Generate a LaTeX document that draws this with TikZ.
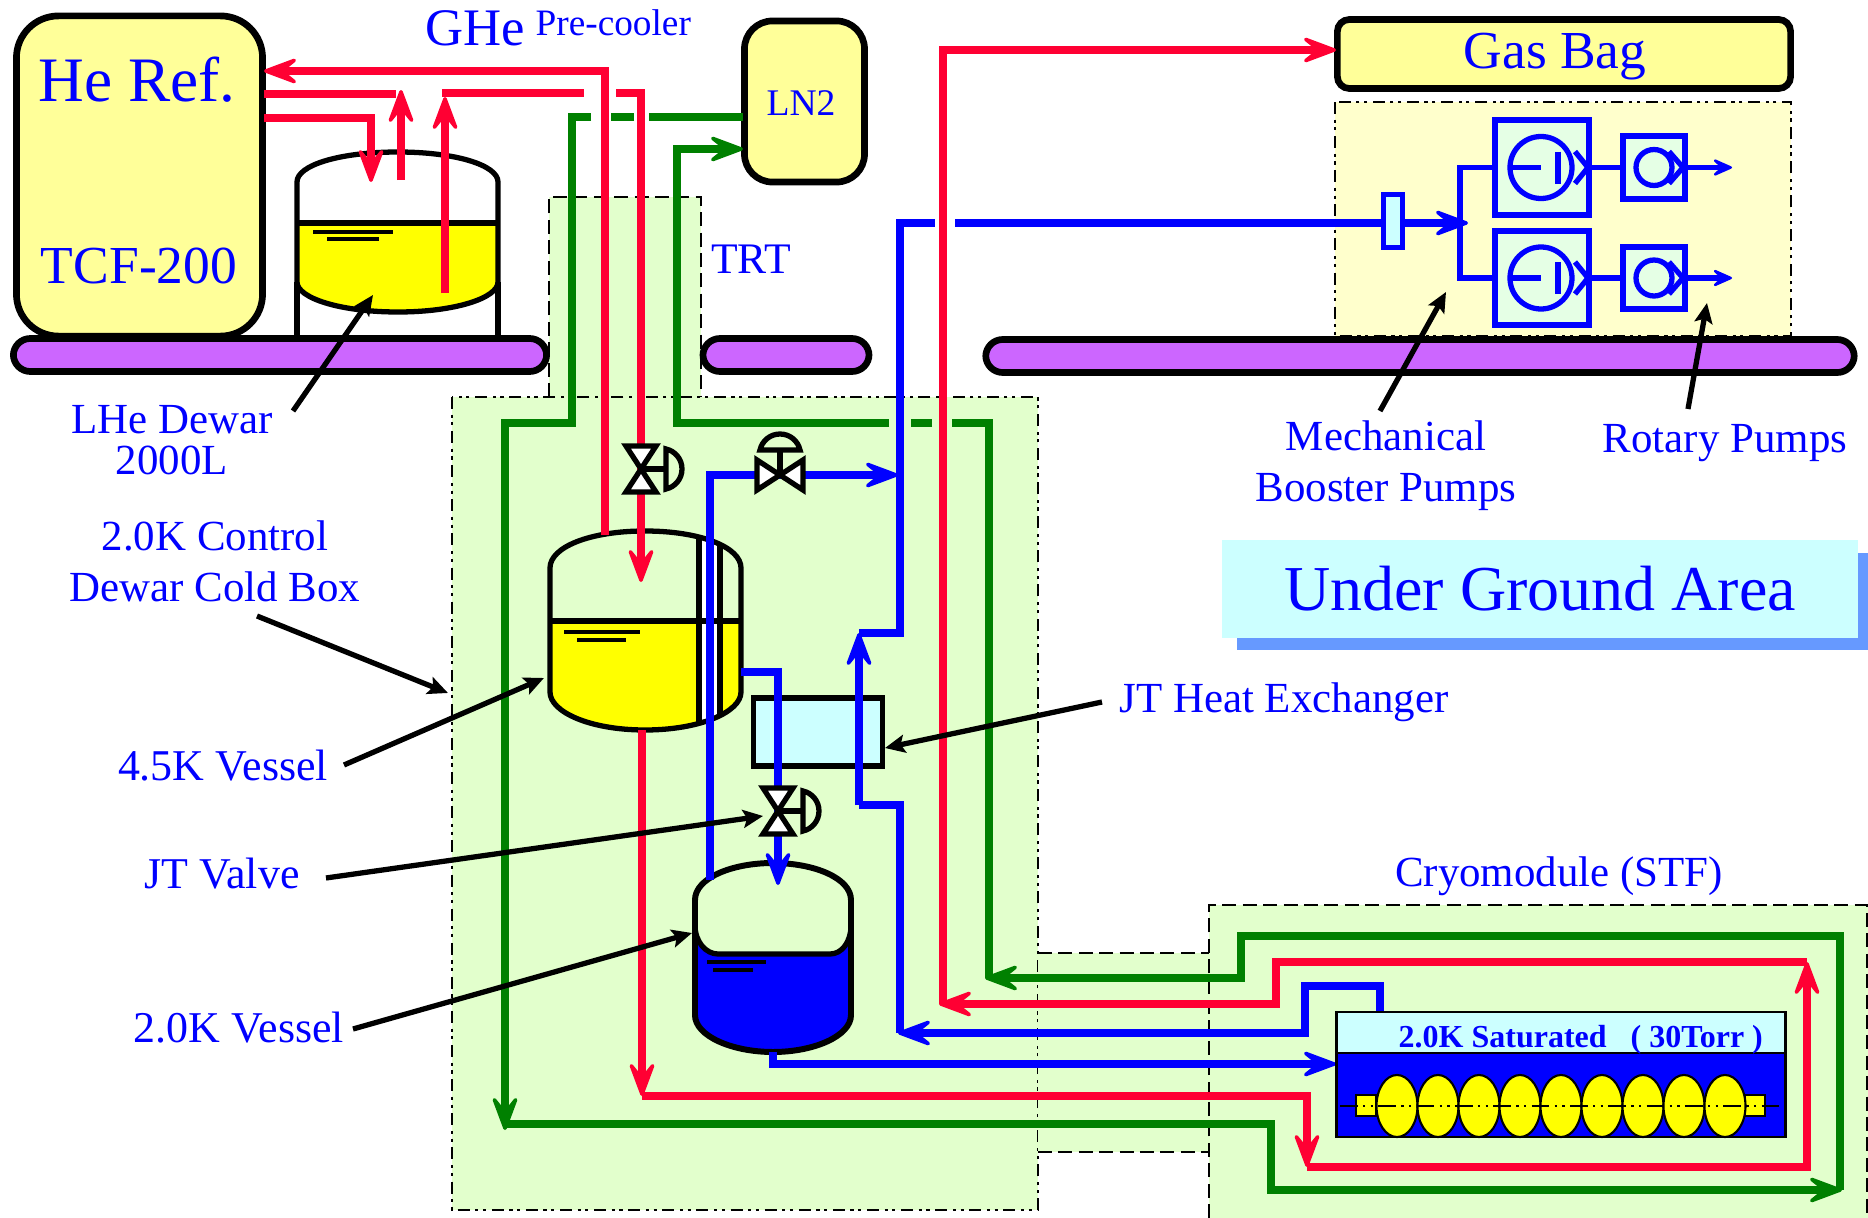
\documentclass[tikz,border=0pt]{standalone}
\usepackage{xcolor}
\usepackage{fontspec}
\setmainfont{Liberation Serif}
\usetikzlibrary{arrows.meta,shapes.geometric}
\definecolor{pipered}{HTML}{FF0033}
\definecolor{pipegreen}{HTML}{008000}
\definecolor{liquidyellow}{HTML}{FFFF00}
\definecolor{paleyellow}{HTML}{FFFF99}
\definecolor{creamyellow}{HTML}{FFFFCC}
\definecolor{palegreen}{HTML}{E2FFCC}
\definecolor{mintgreen}{HTML}{E5FFE5}
\definecolor{palecyan}{HTML}{CCFFFF}
\definecolor{floorpurple}{HTML}{CC66FF}
\definecolor{shadowblue}{HTML}{6699FF}
\tikzset{
	redline/.style={draw=pipered,line width=2.3pt},
	greenline/.style={draw=pipegreen,line width=2.4pt},
	blueline/.style={draw=blue,line width=2.3pt},
	thinblue/.style={draw=blue,line width=1.5pt},
	headed/.style={-{Stealth[length=0.43cm,width=0.32cm,inset=0.2cm,round,line width=1pt]}},
	smallhead/.style={-{Stealth[length=0.25cm,width=0.22cm,inset=0.12cm,round,line width=0.7pt]}},
	pointer/.style={draw=black,line width=1.5pt,-{Stealth[length=0.2cm,width=0.18cm,inset=0.04cm]}},
	shell/.style={draw=black,line width=1.5pt},
	level/.style={draw=black,line width=1.4pt},
	tank/.style={draw=black,line width=1.9pt,fill=paleyellow,rectangle,inner sep=0pt,outer sep=0pt},
	floorbar/.style={draw=black,line width=1.9pt,fill=floorpurple,rectangle,rounded corners=0.17cm,inner sep=0pt,outer sep=0pt},
	hxbox/.style={draw=black,line width=1.5pt,fill=palecyan,rectangle,inner sep=0pt,outer sep=0pt},
	pumpbox/.style={draw=blue,line width=1.7pt,fill=mintgreen,rectangle,inner sep=0pt,outer sep=0pt},
	cell/.style={draw=black,line width=0.6pt,fill=liquidyellow,ellipse,inner sep=0pt,outer sep=0pt,minimum width=0.41cm,minimum height=0.62cm},
	flange/.style={draw=black,line width=0.6pt,fill=liquidyellow,rectangle,inner sep=0pt,outer sep=0pt,minimum width=0.2cm,minimum height=0.21cm},
	dashdotbox/.style={draw=black,line width=0.8pt,dash pattern=on 3.4pt off 1.6pt on 0.9pt off 1.3pt on 0.9pt off 1.6pt},
	dashbox/.style={draw=black,line width=0.8pt,dash pattern=on 4pt off 1.8pt},
	tag/.style={text=blue,anchor=base,inner sep=0pt,font=\fontsize{12.2}{14.5}\selectfont},
	bigtag/.style={tag,font=\fontsize{12.5}{14.5}\selectfont},
	pics/sidevalve/.style={code={
		\draw [shell,fill=white] (-15,-23) -- (15,-23) -- (0,0) -- cycle;
		\draw [shell,fill=white] (-15,23) -- (15,23) -- (0,0) -- cycle;
		\draw [shell] (0,0) -- (25,0);
		\draw [shell] (25,-20) .. controls (34,-18) and (41,-10) .. (41,0) .. controls (41,10) and (34,18) .. (25,20) -- cycle;
	}},
	pics/boosterpump/.style={code={
		\node [pumpbox,minimum width=0.93cm,minimum height=0.94cm] (-box) at (0,0) {};
		\draw [thinblue] (-1,0) circle (31);
		\draw [thinblue] (-32,0) -- (-1,0);
		\draw [thinblue] (16,-16) -- (16,16);
		\draw [thinblue] (33,-16) -- (46,0) -- (33,16);
	}},
	pics/rotarypump/.style={code={
		\node [pumpbox,minimum width=0.62cm,minimum height=0.62cm] (-box) at (0,0) {};
		\draw [thinblue] (0,0) circle (18);
		\draw [thinblue] (15,-16) -- (29,0) -- (15,16);
	}},
}
\begin{document}
\begin{tikzpicture}[x=0.01cm,y=-0.01cm]
				\useasboundingbox (0,0) rectangle (1868,1218);
				\fill [palegreen] (549,197) rectangle (701,397);
				\draw [dashbox] (549,397) -- (549,197) -- (701,197) -- (701,397);
				\fill [palegreen] (452,397) rectangle (1038,1210);
				\draw [dashdotbox] (452,397) rectangle (1038,1210);
				\fill [palegreen] (1038,953) rectangle (1209,1152);
				\draw [dashbox] (1038,953) -- (1209,953);
				\draw [dashbox] (1038,1152) -- (1209,1152);
				\fill [palegreen] (1209,905) rectangle (1868,1218);
				\draw [dashbox] (1209,1218) -- (1209,905) -- (1867,905) -- (1867,1218);
				\fill [creamyellow] (1335,102) rectangle (1791,336);
				\draw [dashdotbox] (1335,102) rectangle (1791,336);
				\fill [shadowblue] (1237,553) rectangle (1868,650);
				\node [fill=palecyan,text=blue,inner sep=0pt,outer sep=0pt,minimum width=6.36cm,minimum height=0.97cm,text depth=0.6pt,font=\fontsize{18.2}{18}\selectfont] (undergnd) at (1540,589) {Under Ground Area};
				\node [tank,rounded corners=0.42cm,minimum width=2.46cm,minimum height=3.2cm] (heref) at (139.5,176) {};
				\node [tank,rounded corners=0.28cm,minimum width=1.2cm,minimum height=1.61cm] (lntwo) at (804.5,101.5) {};
				\node [tank,rounded corners=0.12cm,minimum width=4.53cm,minimum height=0.69cm] (gasbag) at (1564,54) {};
				\draw [shell] (297,282) -- (297,340);
				\draw [shell] (498,282) -- (498,340);
				\fill [white] (297,182) .. controls (297,165) and (340,152) .. (398,152) .. controls (455,152) and (498,165) .. (498,182) -- (498,223) -- (297,223) -- cycle;
				\fill [liquidyellow] (297,223) -- (498,223) -- (498,282) .. controls (498,298) and (455,312) .. (398,312) .. controls (340,312) and (297,298) .. (297,282) -- cycle;
				\draw [shell] (297,182) .. controls (297,165) and (340,152) .. (398,152) .. controls (455,152) and (498,165) .. (498,182) -- (498,282) .. controls (498,298) and (455,312) .. (398,312) .. controls (340,312) and (297,298) .. (297,282) -- cycle;
				\draw [shell] (297,223) -- (498,223);
				\draw [level] (313,232) -- (393,232);
				\draw [level] (327,239) -- (379,239);
				\fill [liquidyellow] (550,621) -- (741,621) -- (741,692) .. controls (741,712) and (700,730) .. (645,730) .. controls (590,730) and (550,712) .. (550,692) -- cycle;
				\fill [white] (699,537) -- (720,546) -- (720,714) -- (699,722) -- cycle;
				\draw [shell] (550,568) .. controls (550,547) and (590,531) .. (645,531) .. controls (700,531) and (741,547) .. (741,568) -- (741,692) .. controls (741,712) and (700,730) .. (645,730) .. controls (590,730) and (550,712) .. (550,692) -- cycle;
				\draw [shell] (550,621) -- (741,621);
				\draw [shell] (699,537) -- (699,722);
				\draw [shell] (720,546) -- (720,714);
				\draw [level] (564,632) -- (640,632);
				\draw [level] (577,640) -- (626,640);
				\fill [blue] (695,900) .. controls (695,878) and (732,863) .. (773,863) .. controls (814,863) and (851,878) .. (851,900) -- (851,1015) .. controls (851,1036) and (814,1052) .. (773,1052) .. controls (732,1052) and (695,1036) .. (695,1015) -- cycle;
				\fill [palegreen] (695,900) .. controls (695,878) and (732,863) .. (773,863) .. controls (814,863) and (851,878) .. (851,900) -- (851,925) .. controls (851,942) and (842,954) .. (830,954) -- (718,954) .. controls (706,954) and (695,942) .. (695,925) -- cycle;
				\draw [shell,line width=1.7pt] (695,900) .. controls (695,878) and (732,863) .. (773,863) .. controls (814,863) and (851,878) .. (851,900) -- (851,1015) .. controls (851,1036) and (814,1052) .. (773,1052) .. controls (732,1052) and (695,1036) .. (695,1015) -- cycle;
				\draw [shell] (695,925) .. controls (695,942) and (706,954) .. (718,954) -- (830,954) .. controls (842,954) and (851,942) .. (851,925);
				\draw [level] (707,962) -- (766,962);
				\draw [level] (713,970) -- (753,970);
				\node [hxbox,minimum width=1.29cm,minimum height=0.68cm] (jthx) at (818,732) {};
				\coordinate (returnstart) at (605,535);
				\coordinate (hereftop) at (264,71);
				\coordinate (herefmid) at (264,94);
				\coordinate (herefout) at (264,118);
				\coordinate (coolerout) at (396,94);
				\coordinate (coolertop) at (401,90);
				\coordinate (coolerfoot) at (401,180);
				\coordinate (dewardrop) at (371,182);
				\coordinate (dewarriser) at (445,293);
				\coordinate (dewartop) at (445,97);
				\coordinate (feedleft) at (442,93);
				\coordinate (feedmid) at (584,93);
				\coordinate (feedright) at (616,93);
				\coordinate (vesselfill) at (641,582);
				\coordinate (vesseldrain) at (642,730);
				\coordinate (drainend) at (642,1096);
				\coordinate (cryoin) at (1307,1167);
				\coordinate (cryoturn) at (1807,1167);
				\coordinate (cryoup) at (1807,962);
				\coordinate (cryoback) at (939,1004);
				\coordinate (bagriser) at (943,1004);
				\coordinate (bagin) at (1336,50);
				\draw [redline,headed] (returnstart) -- (605,71) -- (hereftop);
				\draw [redline] (herefmid) -- (coolerout);
				\draw [redline,headed] (coolerfoot) -- (coolertop);
				\draw [redline,headed] (herefout) -- (371,118) -- (dewardrop);
				\draw [redline] (feedleft) -- (feedmid);
				\draw [redline,headed] (dewarriser) -- (dewartop);
				\draw [redline,headed] (feedright) -- (641,93) -- (vesselfill);
				\draw [redline,headed] (vesseldrain) -- (drainend);
				\draw [redline,headed] (drainend) -- (1307,1096) -- (cryoin);
				\draw [redline,headed] (cryoin) -- (cryoturn) -- (cryoup);
				\draw [redline,headed] (cryoup) -- (1276,962) -- (1276,1004) -- (cryoback);
				\draw [redline,headed] (bagriser) -- (943,50) -- (bagin);
				\coordinate (lnout) at (743,117);
				\coordinate (lnin) at (743,149);
				\coordinate (shieldin) at (505,1130);
				\coordinate (shieldrun) at (505,1124);
				\coordinate (shieldend) at (1842,1190);
				\coordinate (shieldback) at (1840,1190);
				\coordinate (shieldret) at (985,978);
				\coordinate (shieldup) at (989,978);
				\draw [greenline] (lnout) -- (649,117);
				\draw [greenline] (634,117) -- (611,117);
				\draw [greenline,headed] (591,117) -- (572,117) -- (572,423) -- (505,423) -- (shieldin);
				\draw [greenline,headed] (shieldrun) -- (1271,1124) -- (1271,1190) -- (shieldend);
				\draw [greenline,headed] (shieldback) -- (1840,936) -- (1241,936) -- (1241,978) -- (shieldret);
				\draw [greenline] (shieldup) -- (989,423) -- (952,423);
				\draw [greenline] (932,423) -- (911,423);
				\draw [greenline,headed] (889,423) -- (677,423) -- (677,149) -- (lnin);
				\coordinate (cavitytop) at (1380,1012);
				\coordinate (returnarrow) at (898,1033);
				\coordinate (hxout) at (859,633);
				\coordinate (hxin) at (859,805);
				\coordinate (mainleft) at (935,223);
				\coordinate (mainright) at (955,223);
				\coordinate (pumpjoin) at (1468,223);
				\coordinate (drumout) at (741,672);
				\coordinate (drumin) at (778,885);
				\coordinate (bypassfoot) at (710,880);
				\coordinate (bypassend) at (898,475);
				\coordinate (fillstart) at (773,1052);
				\coordinate (fillend) at (1336,1064);
				\draw [blueline,headed] (cavitytop) -- (1380,986) -- (1305,986) -- (1305,1033) -- (returnarrow);
				\draw [blueline] (900,1033) -- (900,805) -- (hxin);
				\draw [blueline,headed] (hxin) -- (hxout);
				\draw [blueline] (hxout) -- (900,633) -- (900,223) -- (mainleft);
				\draw [blueline,headed] (mainright) -- (pumpjoin);
				\draw [blueline,headed] (drumout) -- (778,672) -- (drumin);
				\draw [blueline,headed] (bypassfoot) -- (710,475) -- (bypassend);
				\draw [blueline,headed] (fillstart) -- (773,1064) -- (fillend);
				\pic at (641,469) {sidevalve};
				\pic at (778,811) {sidevalve};
				\pic [rotate=90] at (780,475) {sidevalve};
				\node [floorbar,minimum width=5.33cm,minimum height=0.33cm] (floorleft) at (280,355) {};
				\node [floorbar,minimum width=1.66cm,minimum height=0.33cm] (floormid) at (786,355) {};
				\node [floorbar,minimum width=8.68cm,minimum height=0.33cm] (floorright) at (1420,356) {};
				\node [draw=blue,line width=1.3pt,fill=palecyan,inner sep=0pt,outer sep=0pt,minimum width=0.19cm,minimum height=0.53cm] (trap) at (1393,221) {};
				\pic (mbpa) at (1542,167.5) {boosterpump};
				\pic (mbpb) at (1542,278) {boosterpump};
				\pic (rpa) at (1654,167.5) {rotarypump};
				\pic (rpb) at (1654,278) {rotarypump};
				\coordinate (branch) at (1460,223);
				\coordinate (rpaout) at (1732,167.5);
				\coordinate (rpbout) at (1732,278);
				\draw [thinblue] (branch) -- (1460,167.5) -- (mbpa-box.west);
				\draw [thinblue] (branch) -- (1460,278) -- (mbpb-box.west);
				\draw [thinblue] (mbpa-box.east) -- (rpa-box.west);
				\draw [thinblue] (mbpb-box.east) -- (rpb-box.west);
				\draw [thinblue,smallhead] (rpa-box.east) -- (rpaout);
				\draw [thinblue,smallhead] (rpb-box.east) -- (rpbout);
				\fill [blue] (1337,1053) rectangle (1785,1137);
				\node [draw=black,line width=0.8pt,fill=palecyan,inner sep=0pt,outer sep=0pt,minimum width=4.49cm,minimum height=0.41cm] (cavitygas) at (1561,1032.5) {};
				\draw [black,line width=0.8pt] (1336.5,1053) rectangle (1785.5,1137);
				\node [flange] (flangea) at (1366,1105.5) {};
				\node [flange] (flangeb) at (1755,1105.5) {};
				\node [cell] (cella) at (1397,1106) {};
				\node [cell] (cellb) at (1438,1106) {};
				\node [cell] (cellc) at (1479,1106) {};
				\node [cell] (celld) at (1520,1106) {};
				\node [cell] (celle) at (1561,1106) {};
				\node [cell] (cellf) at (1602,1106) {};
				\node [cell] (cellg) at (1643,1106) {};
				\node [cell] (cellh) at (1684,1106) {};
				\node [cell] (celli) at (1725,1106) {};
				\coordinate (axisleft) at (1340,1106);
				\coordinate (axisright) at (1783,1106);
				\draw [black,line width=0.7pt,dash pattern=on 5pt off 1.5pt on 0.7pt off 1.5pt on 0.7pt off 1.5pt] (axisleft) -- (axisright);
				\node [tag,font=\fontsize{18}{18}\selectfont] (hereftext) at (137,101) {He Ref.};
				\node [tag,font=\fontsize{15.2}{15}\selectfont] (tcftext) at (139,283) {TCF-200};
				\node [tag,font=\fontsize{15}{15}\selectfont,anchor=base west] (ghetext) at (425,45) {GHe};
				\node [tag,font=\fontsize{10.6}{10}\selectfont,anchor=base west] (precooltext) at (535,35) {Pre-cooler};
				\node [tag,font=\fontsize{10.7}{10}\selectfont] (lntext) at (801,116) {LN2};
				\node [tag,font=\fontsize{12.4}{14}\selectfont] (trttext) at (751,274) {TRT};
				\node [tag,font=\fontsize{15.2}{15}\selectfont] (gastext) at (1555,68) {Gas Bag};
				\node [tag,align=center] (lhetext) at (172,474) {LHe Dewar\\[-3.1pt]2000L};
				\node [tag,align=center] (controltext) at (215,601) {2.0K Control\\Dewar Cold Box};
				\node [bigtag] (fourktext) at (223,780) {4.5K Vessel};
				\node [bigtag] (valvetext) at (222,888) {JT Valve};
				\node [bigtag] (twoktext) at (239,1042) {2.0K Vessel};
				\node [tag] (hxtext) at (1284,712) {JT Heat Exchanger};
				\node [tag] (cryotext) at (1559,886) {Cryomodule (STF)};
				\node [tag,align=center] (mbptext) at (1386,501) {Mechanical\\Booster Pumps};
				\node [tag] (rptext) at (1725,452) {Rotary Pumps};
				\node [tag,font=\fontsize{9.1}{9}\selectfont\bfseries,anchor=base west] (satext) at (1398,1047) {2.0K Saturated\hspace{0.75em}( 30Torr )};
				\coordinate (lhefrom) at (293,411);
				\coordinate (lheto) at (373,295);
				\coordinate (controlfrom) at (257,616);
				\coordinate (controlto) at (448,693);
				\coordinate (fourkfrom) at (344,765);
				\coordinate (fourkto) at (544,678);
				\coordinate (valvefrom) at (326,878);
				\coordinate (valveto) at (763,816);
				\coordinate (twokfrom) at (353,1029);
				\coordinate (twokto) at (692,933);
				\coordinate (hxfrom) at (1102,702);
				\coordinate (hxto) at (885,748);
				\coordinate (mbpfrom) at (1380,411);
				\coordinate (mbpto) at (1446,292);
				\coordinate (rpfrom) at (1688,409);
				\coordinate (rpto) at (1707,303);
				\draw [pointer] (lhefrom) -- (lheto);
				\draw [pointer] (controlfrom) -- (controlto);
				\draw [pointer] (fourkfrom) -- (fourkto);
				\draw [pointer] (valvefrom) -- (valveto);
				\draw [pointer] (twokfrom) -- (twokto);
				\draw [pointer] (hxfrom) -- (hxto);
				\draw [pointer] (mbpfrom) -- (mbpto);
				\draw [pointer] (rpfrom) -- (rpto);
				\end{tikzpicture}
\end{document}
